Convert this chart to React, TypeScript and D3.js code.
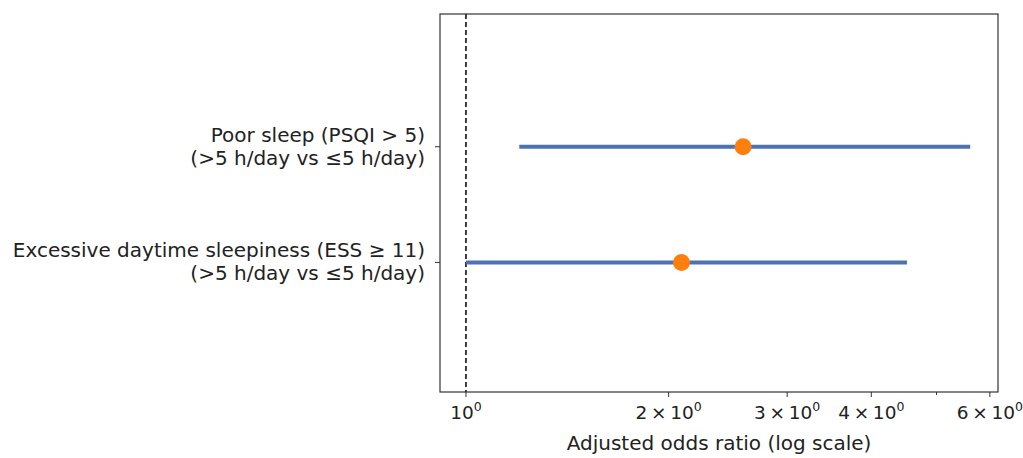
import React, { useEffect, useRef } from "react";
import * as d3 from "d3";

const outcomes = [
  "Excessive daytime sleepiness (ESS ≥ 11)\n(>5 h/day vs ≤5 h/day)",
  "Poor sleep (PSQI > 5)\n(>5 h/day vs ≤5 h/day)",
];
const oddsRatio = [2.09, 2.58];
const ciLow = [1.0, 1.2];
const ciHigh = [4.52, 5.61];

const majorTicks = [1, 2, 3, 4, 6];
const minorTicks = [5];
const tickMantissa = ["", "2", "3", "4", "6"];

const W = 1023;
const H = 458;
const margin = { top: 14, right: 25, bottom: 66, left: 440 };

const App = () => {
  const svgRef = useRef<SVGSVGElement>(null);

  useEffect(() => {
    const svg = d3.select(svgRef.current);
    svg.selectAll("*").remove();

    const x0 = margin.left;
    const x1 = W - margin.right;
    const y0 = margin.top;
    const y1 = H - margin.bottom;

    // Log x scale, categorical rows on y
    const x = d3.scaleLog().domain([0.915, 6.17]).range([x0, x1]);
    const y = d3.scaleLinear().domain([-1.12, 2.147]).range([y1, y0]);

    const font = "DejaVu Sans, sans-serif";
    const fs = 20;
    const g = svg.append("g");

    // Reference line at OR = 1
    g.append("line")
      .attr("x1", x(1))
      .attr("x2", x(1))
      .attr("y1", y0)
      .attr("y2", y1)
      .attr("stroke", "#000")
      .attr("stroke-width", 1.5)
      .attr("stroke-dasharray", "5,3");

    // Confidence intervals
    g.selectAll("line.ci")
      .data(outcomes)
      .enter()
      .append("line")
      .attr("class", "ci")
      .attr("x1", (d, i) => x(ciLow[i]))
      .attr("x2", (d, i) => x(ciHigh[i]))
      .attr("y1", (d, i) => y(i))
      .attr("y2", (d, i) => y(i))
      .attr("stroke", "#4c72b0")
      .attr("stroke-width", 4);

    // Point estimates
    g.selectAll("circle")
      .data(outcomes)
      .enter()
      .append("circle")
      .attr("cx", (d, i) => x(oddsRatio[i]))
      .attr("cy", (d, i) => y(i))
      .attr("r", 8.5)
      .attr("fill", "#ff7f0e");

    // Frame
    g.append("rect")
      .attr("x", x0)
      .attr("y", y0)
      .attr("width", x1 - x0)
      .attr("height", y1 - y0)
      .attr("fill", "none")
      .attr("stroke", "#333")
      .attr("stroke-width", 1.2);

    // X ticks
    [...majorTicks, ...minorTicks].forEach((t) => {
      g.append("line")
        .attr("x1", x(t))
        .attr("x2", x(t))
        .attr("y1", y1)
        .attr("y2", y1 + (minorTicks.includes(t) ? 3 : 5))
        .attr("stroke", "#333")
        .attr("stroke-width", 1);
    });

    majorTicks.forEach((t, i) => {
      const txt = g
        .append("text")
        .attr("x", x(t))
        .attr("y", y1 + 27)
        .attr("text-anchor", "middle")
        .attr("font-family", font)
        .attr("font-size", 18.5)
        .attr("fill", "#222");
      if (tickMantissa[i]) txt.append("tspan").text(tickMantissa[i] + "\u2009×\u2009");
      txt.append("tspan").text("10");
      txt
        .append("tspan")
        .attr("dy", -8)
        .attr("font-size", 12.5)
        .text("0");
    });

    // Y ticks and labels
    outcomes.forEach((label, i) => {
      g.append("line")
        .attr("x1", x0 - 5)
        .attr("x2", x0)
        .attr("y1", y(i))
        .attr("y2", y(i))
        .attr("stroke", "#333");
      const lines = label.split("\n");
      const txt = g
        .append("text")
        .attr("x", x0 - 15)
        .attr("y", y(i) - 5)
        .attr("text-anchor", "end")
        .attr("font-family", font)
        .attr("font-size", fs)
        .attr("fill", "#222");
      lines.forEach((l, k) => {
        txt
          .append("tspan")
          .attr("x", x0 - 15)
          .attr("dy", k === 0 ? 0 : 23)
          .text(l);
      });
    });

    // Axis title
    g.append("text")
      .attr("x", (x0 + x1) / 2)
      .attr("y", y1 + 58)
      .attr("text-anchor", "middle")
      .attr("font-family", font)
      .attr("font-size", fs)
      .attr("fill", "#222")
      .text("Adjusted odds ratio (log scale)");
  }, []);

  return (
    <svg
      ref={svgRef}
      width={W}
      height={H}
      style={{ position: "absolute", left: 0, top: 0, background: "#fff" }}
    />
  );
};

export default App;
